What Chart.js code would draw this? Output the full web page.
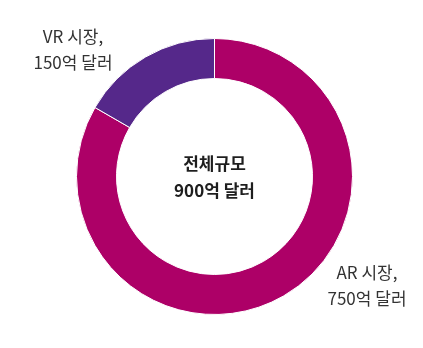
<!DOCTYPE html>
<html>
<head>
<meta charset="utf-8">
<script src="https://cdn.jsdelivr.net/npm/chart.js@4/dist/chart.umd.min.js"></script>
<style>
  html, body { margin: 0; padding: 0; background: #fff; }
  #wrap { width: 423px; height: 348px; position: relative; }
</style>
</head>
<body>
<div id="wrap"><canvas id="grafico"></canvas></div>
<script>
// mercados (억 달러)
const mercados = ["AR 시장", "VR 시장"];
const montos = [750, 150];
const colores = ["#ad0067", "#55288a"];
const totalTexto = ["전체규모", "900억 달러"];
const etiquetas = [["AR 시장,", "750억 달러"], ["VR 시장,", "150억 달러"]];

// donde va cada etiqueta
const posEtiquetas = [{x: 367, y: 273}, {x: 73, y: 37}];

const textos = {
  id: "textos",
  afterDraw(chart) {
    const ctx = chart.ctx;
    const arco = chart.getDatasetMeta(0).data[0];
    ctx.save();
    ctx.textAlign = "center";
    ctx.textBaseline = "middle";
    // centro
    ctx.fillStyle = "#1e1e1e";
    ctx.font = "bold 17px 'Noto Sans CJK KR'";
    ctx.fillText(totalTexto[0], arco.x, arco.y - 13);
    ctx.fillText(totalTexto[1], arco.x, arco.y + 14);
    // etiquetas de afuera
    ctx.fillStyle = "#333";
    ctx.font = "17px 'Noto Sans CJK KR'";
    etiquetas.forEach((e, i) => {
      ctx.fillText(e[0], posEtiquetas[i].x, posEtiquetas[i].y);
      ctx.fillText(e[1], posEtiquetas[i].x, posEtiquetas[i].y + 26);
    });
    ctx.restore();
  }
};

new Chart(document.getElementById("grafico"), {
  type: "doughnut",
  data: {
    labels: mercados,
    datasets: [{
      data: montos,
      backgroundColor: colores,
      borderColor: "#fff",
      borderWidth: 1
    }]
  },
  options: {
    responsive: true,
    maintainAspectRatio: false,
    animation: false,
    cutout: "71%",
    layout: { padding: { top: 38, bottom: 33, left: 76, right: 70 } },
    plugins: {
      legend: { display: false },
      tooltip: { enabled: false }
    }
  },
  plugins: [textos]
});
</script>
</body>
</html>
